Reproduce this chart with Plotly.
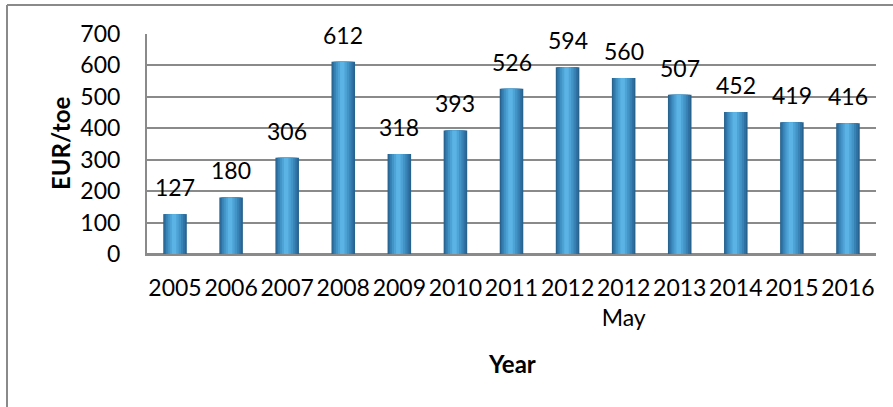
import plotly.graph_objects as go

# Energy price by year (EUR per tonne of oil equivalent)
categories = ["2005", "2006", "2007", "2008", "2009", "2010", "2011",
              "2012", "2012<br>May", "2013", "2014", "2015", "2016"]
values = [127, 180, 306, 612, 318, 393, 526, 594, 560, 507, 452, 419, 416]
value_labels = [str(v) for v in values]

positions = list(range(len(categories)))

W, H = 893, 407
ML, MR, MT, MB = 147, 17, 34, 153
PW, PH = W - ML - MR, H - MT - MB

FONT = "Lato"
GRID = "#8a8a8a"


def px_x(px):
    return (px - ML) / PW


def px_y(py):
    return (MT + PH - py) / PH


fig = go.Figure()

# Cylinder-like shading: stacked overlays from dark edge to light core
shades = [
    (0.42, 0.000, "#28638f"),
    (0.37, -0.004, "#2f71a2"),
    (0.31, -0.008, "#3882b5"),
    (0.24, -0.012, "#4293c6"),
    (0.16, -0.016, "#4ea3d6"),
    (0.08, -0.018, "#5bb2e4"),
]
for w, shift, col in shades:
    fig.add_trace(go.Bar(
        x=positions, y=values,
        width=w, offset=-w / 2 + shift,
        marker=dict(color=col, line=dict(width=0)),
        hoverinfo="skip", showlegend=False,
    ))

# Value labels above each bar
for p, v, t in zip(positions, values, value_labels):
    fig.add_annotation(x=p, y=v, text=t, showarrow=False,
                       yanchor="bottom", yshift=11,
                       font=dict(family=FONT, size=23, color="#000000"))

# Axis titles
fig.add_annotation(xref="paper", yref="paper", x=px_x(60), y=px_y(144),
                   text="<b>EUR/toe</b>", textangle=-90, showarrow=False,
                   xanchor="center", yanchor="middle",
                   font=dict(family=FONT, size=24, color="#000000"))
fig.add_annotation(xref="paper", yref="paper", x=0.5, y=px_y(363),
                   text="<b>Year</b>", showarrow=False,
                   xanchor="center", yanchor="middle",
                   font=dict(family=FONT, size=24, color="#000000"))

# Outer chart frame (left and top edges)
fig.add_shape(type="line", xref="paper", yref="paper",
              x0=px_x(7), x1=px_x(7), y0=px_y(H + 2), y1=px_y(5),
              line=dict(color=GRID, width=2))
fig.add_shape(type="line", xref="paper", yref="paper",
              x0=px_x(7), x1=px_x(W + 2), y0=px_y(5), y1=px_y(5),
              line=dict(color=GRID, width=2))

fig.update_layout(
    width=W, height=H,
    margin=dict(l=ML, r=MR, t=MT, b=MB, autoexpand=False),
    barmode="overlay",
    plot_bgcolor="white", paper_bgcolor="white",
    font=dict(family=FONT, size=23, color="#000000"),
    showlegend=False,
)
fig.update_xaxes(
    range=[-0.5, len(categories) - 0.5],
    tickmode="array", tickvals=positions, ticktext=categories,
    tickangle=0,
    showgrid=False, zeroline=False, showline=True,
    linecolor=GRID, linewidth=2, ticks="", ticklabelstandoff=12,
    tickfont=dict(family=FONT, size=23),
)
fig.update_yaxes(
    range=[0, 700], dtick=100, showgrid=True,
    gridcolor=GRID, gridwidth=2,
    showline=True, linecolor=GRID, linewidth=2,
    zeroline=True, zerolinecolor=GRID, zerolinewidth=2,
    ticks="", ticklabelstandoff=20,
    tickfont=dict(family=FONT, size=23),
)

fig.write_html("out.html")
